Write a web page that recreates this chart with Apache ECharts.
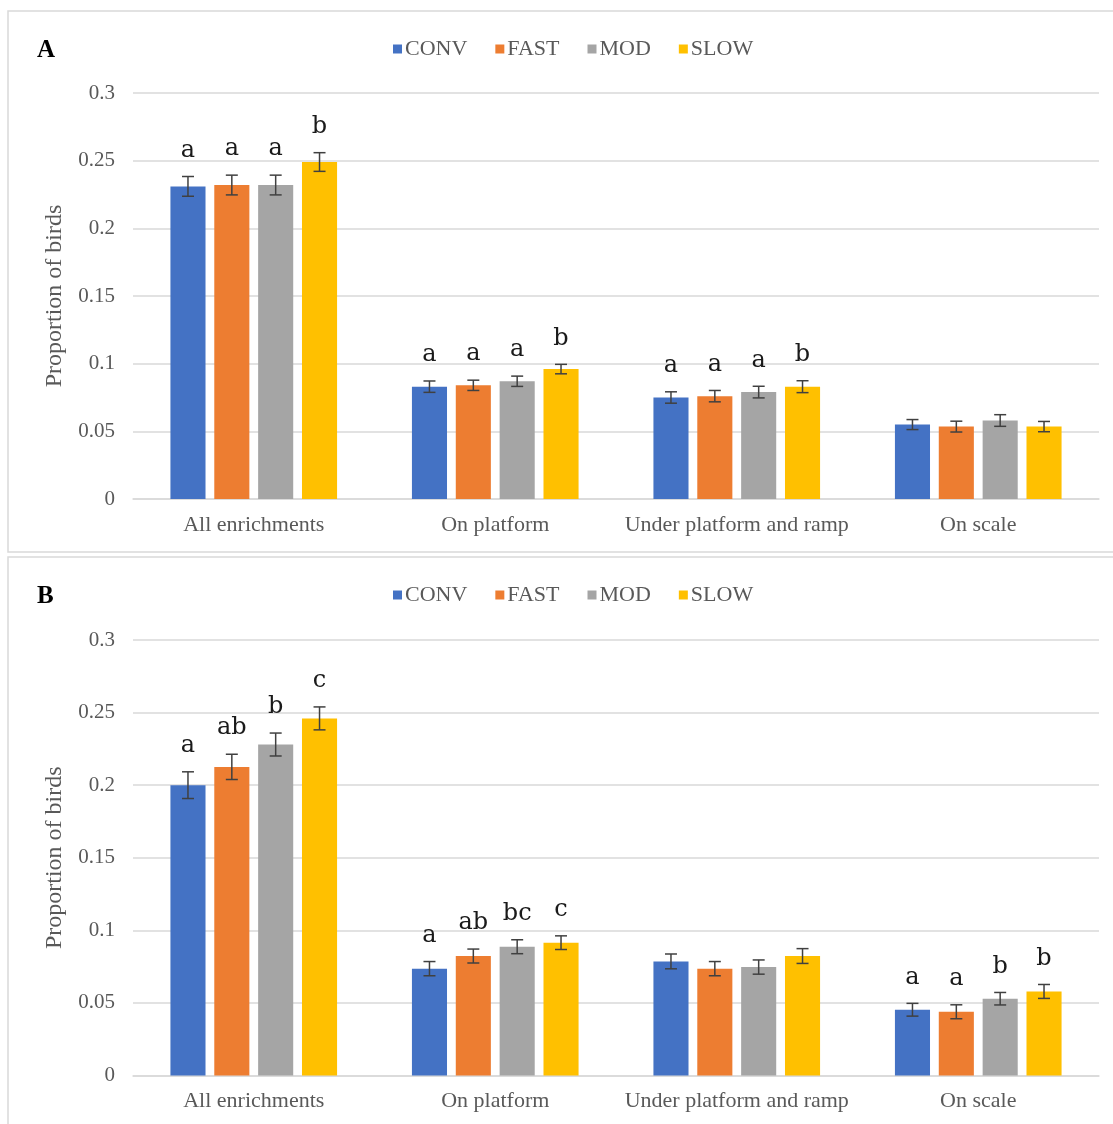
<!DOCTYPE html>
<html>
<head>
<meta charset="utf-8">
<script src="https://cdn.jsdelivr.net/npm/echarts@6/dist/echarts.min.js"></script>
<style>
html,body{margin:0;padding:0;background:#fff;}
#chart{width:1113px;height:1124px;}
</style>
</head>
<body>
<div id="chart"></div>
<script>
const categories = ['All enrichments', 'On platform', 'Under platform and ramp', 'On scale'];
const groups = ['CONV', 'FAST', 'MOD', 'SLOW'];
const colors = ['#4472C4', '#ED7D31', '#A5A5A5', '#FFC000'];

// Panel A
const aConv = [0.231, 0.083, 0.075, 0.055];
const aFast = [0.232, 0.084, 0.076, 0.0535];
const aMod  = [0.232, 0.087, 0.079, 0.058];
const aSlow = [0.249, 0.096, 0.083, 0.0535];
const aConvErr = [0.0073, 0.0042, 0.0042, 0.0037];
const aFastErr = [0.0073, 0.0038, 0.0042, 0.0040];
const aModErr  = [0.0073, 0.0038, 0.0043, 0.0043];
const aSlowErr = [0.0069, 0.0035, 0.0044, 0.0038];
const aConvSig = ['a', 'a', 'a', ''];
const aFastSig = ['a', 'a', 'a', ''];
const aModSig  = ['a', 'a', 'a', ''];
const aSlowSig = ['b', 'b', 'b', ''];

// Panel B
const bConv = [0.200, 0.0736, 0.0786, 0.0453];
const bFast = [0.2126, 0.0823, 0.0736, 0.0439];
const bMod  = [0.228, 0.0887, 0.0747, 0.0529];
const bSlow = [0.246, 0.0915, 0.0823, 0.0579];
const bConvErr = [0.0092, 0.0049, 0.0051, 0.0044];
const bFastErr = [0.0087, 0.0048, 0.0049, 0.0048];
const bModErr  = [0.0079, 0.0048, 0.0049, 0.0043];
const bSlowErr = [0.0079, 0.0047, 0.0051, 0.0048];
const bConvSig = ['a', 'a', '', 'a'];
const bFastSig = ['ab', 'ab', '', 'a'];
const bModSig  = ['b', 'bc', '', 'b'];
const bSlowSig = ['c', 'c', '', 'b'];

const yMin = 0, yMax = 0.3, yStep = 0.05;
const panelLabels = ['A', 'B'];

const CAT_GAP = 0.31, BAR_GAP = 0.25;
const serif = '"Liberation Serif", "Times New Roman", serif';
const textGray = '#595959';

const panels = [
  {vals: [aConv, aFast, aMod, aSlow], errs: [aConvErr, aFastErr, aModErr, aSlowErr], sigs: [aConvSig, aFastSig, aModSig, aSlowSig]},
  {vals: [bConv, bFast, bMod, bSlow], errs: [bConvErr, bFastErr, bModErr, bSlowErr], sigs: [bConvSig, bFastSig, bModSig, bSlowSig]}
];

const gridDefs = [
  {left: 133, right: 14, top: 93, height: 406},
  {left: 133, right: 14, top: 640, height: 435.5}
];

const series = [];
panels.forEach((p, pi) => {
  groups.forEach((g, gi) => {
    series.push({
      name: g, type: 'bar', xAxisIndex: pi, yAxisIndex: pi,
      data: p.vals[gi],
      itemStyle: {color: colors[gi]},
      barCategoryGap: (CAT_GAP * 100) + '%',
      barGap: (BAR_GAP * 100) + '%',
      emphasis: {disabled: true},
      z: 2
    });
  });
  const rows = [], letters = [];
  groups.forEach((g, gi) => {
    categories.forEach((c, ci) => {
      rows.push([ci, p.vals[gi][ci], p.errs[gi][ci], gi]);
      letters.push(p.sigs[gi][ci]);
    });
  });
  series.push({
    type: 'custom', xAxisIndex: pi, yAxisIndex: pi, z: 5,
    data: rows,
    encode: {x: 0, y: 1},
    silent: true,
    renderItem: function (params, api) {
      const ci = api.value(0), val = api.value(1), err = api.value(2), gi = api.value(3);
      const n = groups.length;
      const band = api.size([1, 0])[0];
      const remained = band * (1 - CAT_GAP);
      const bw = remained / (n + (n - 1) * BAR_GAP);
      const cx = api.coord([ci, 0])[0];
      const x = cx - remained / 2 + bw / 2 + gi * bw * (1 + BAR_GAP);
      const yTop = api.coord([ci, val + err])[1];
      const yBot = api.coord([ci, val - err])[1];
      const cap = 6;
      const st = {stroke: '#404040', lineWidth: 1.5};
      const children = [
        {type: 'line', shape: {x1: x, y1: yTop, x2: x, y2: yBot}, style: st},
        {type: 'line', shape: {x1: x - cap, y1: yTop, x2: x + cap, y2: yTop}, style: st},
        {type: 'line', shape: {x1: x - cap, y1: yBot, x2: x + cap, y2: yBot}, style: st}
      ];
      const t = letters[params.dataIndex];
      if (t) {
        children.push({type: 'text', style: {text: t, x: x, y: yTop - 14, fill: '#1a1a1a',
          font: '24px "DejaVu Serif", serif', align: 'center', verticalAlign: 'bottom'}});
      }
      return {type: 'group', children: children};
    }
  });
});

const option = {
  animation: false,
  backgroundColor: '#ffffff',
  textStyle: {fontFamily: serif},
  legend: [0, 1].map(pi => ({
    data: groups,
    top: pi === 0 ? 33 : 579,
    left: 388,
    itemWidth: 9, itemHeight: 9, itemGap: 28,
    icon: 'rect',
    textStyle: {fontFamily: serif, fontSize: 22, color: textGray, padding: [0, 0, 0, -2]}
  })),
  grid: gridDefs,
  xAxis: [0, 1].map(pi => ({
    type: 'category', gridIndex: pi, data: categories,
    axisLine: {lineStyle: {color: '#D9D9D9', width: 1.5}},
    axisTick: {show: false},
    axisLabel: {interval: 0, fontFamily: serif, fontSize: 22, color: textGray, margin: 15}
  })),
  yAxis: [0, 1].map(pi => ({
    type: 'value', gridIndex: pi, min: yMin, max: yMax, interval: yStep,
    name: 'Proportion of birds', nameLocation: 'middle', nameGap: 66,
    nameTextStyle: {fontFamily: serif, fontSize: 24, color: textGray},
    axisLine: {show: false}, axisTick: {show: false},
    axisLabel: {fontFamily: serif, fontSize: 21, color: textGray, margin: 18},
    splitLine: {lineStyle: {color: '#D9D9D9', width: 1.5}}
  })),
  graphic: [
    {type: 'rect', shape: {x: 8, y: 11, width: 1115, height: 541}, style: {fill: 'none', stroke: '#D9D9D9', lineWidth: 1.5}, z: -1},
    {type: 'rect', shape: {x: 8, y: 557, width: 1115, height: 580}, style: {fill: 'none', stroke: '#D9D9D9', lineWidth: 1.5}, z: -1},
    {type: 'text', left: 37, top: 38, style: {text: panelLabels[0], font: 'bold 25px ' + serif, fill: '#000'}},
    {type: 'text', left: 37, top: 584, style: {text: panelLabels[1], font: 'bold 25px ' + serif, fill: '#000'}}
  ],
  series: series
};

const chart = echarts.init(document.getElementById('chart'), null, {renderer: 'canvas'});
chart.setOption(option);
</script>
</body>
</html>
